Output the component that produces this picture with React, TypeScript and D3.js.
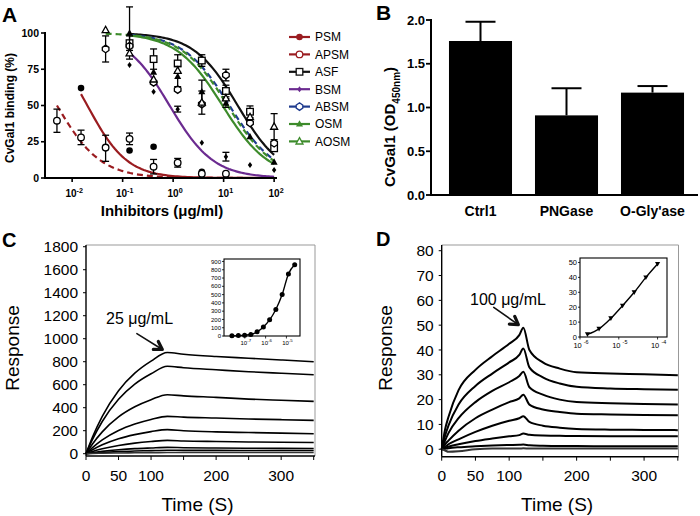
import React from 'react';
import * as d3 from 'd3';

// ---------- panel A: inhibition curves ----------
const concA = [100, 33.3, 11.1, 3.7, 1.23, 0.41, 0.137, 0.046, 0.015, 0.005];
const namesA = ['PSM', 'APSM', 'ASF', 'BSM', 'ABSM', 'OSM', 'AOSM'];
const valsA = [
  [null, null, null, 4.3, 10, 21.6, 19, 20.5, 62, null],
  [null, null, 3, 3, 10.5, 7.8, 27, 21, 28, 39.5],
  [20.5, 45.7, 60, 81, 79, 82, 93, null, null, null],
  [5.5, 9, 14.7, 24.3, 47.5, 59.5, 78, null, null, null],
  [24, 38, 71, 51, 61, 66, 91, 89, null, null],
  [11, 28.5, 51.7, 59.5, 70, 73, 100, null, null, null],
  [35.4, 42, 55, 52, 74, 68, 86, 102, null, null],
];
const errsA = [
  [0, 0, 0, 0, 0, 0, 0, 9, 0, 0],
  [0, 0, 0, 0, 3, 5, 4, 0, 5, 8],
  [0, 4, 4, 4, 6, 7, 5, 0, 0, 0],
  [0, 0, 3, 0, 2, 0, 0, 0, 0, 0],
  [0, 0, 4, 0, 0, 0, 0, 9, 0, 0],
  [0, 0, 3, 8, 7, 0, 18, 0, 0, 0],
  [9, 0, 0, 8, 0, 0, 0, 0, 0, 0],
];
// fitted one-site inhibition parameters
const fitIC50 = [0.02, 0.005, 19, 0.85, 13, 9.5, 12];
const fitHill = [1.1, 1.0, 1.0, 1.0, 0.95, 0.95, 0.95];
const fitStart = [0.015, 0.005, 0.137, 0.137, 0.137, 0.137, 0.046];
const ticksA = [0, 25, 50, 75, 100];
const decadesA = [-2, -1, 0, 1, 2];

const colorsA = ['#9a1c20', '#9a1c20', '#111', '#6b2b90', '#1f3b8e', '#3d8b2b', '#3d8b2b'];
const dashedA = [false, true, false, false, true, false, true];
const markersA = ['cf', 'co', 'so', 'df', 'do', 'tf', 'to'];

// ---------- panel B: bars ----------
const catsB = ['Ctrl1', 'PNGase', "O-Gly'ase"];
const meansB = [1.76, 0.91, 1.17];
const errB = [0.22, 0.31, 0.075];
const ticksB = [0, 0.5, 1.0, 1.5, 2.0];

// ---------- panel C: sensorgrams ----------
const timeC = [0, 10, 25, 50, 75, 100, 125, 150, 200, 250, 300, 350];
const respC = [
  [0, 145, 325, 548, 700, 805, 880, 865, 845, 830, 815, 800],
  [0, 125, 280, 473, 605, 695, 760, 748, 730, 713, 700, 687],
  [0, 85, 190, 320, 408, 470, 513, 503, 490, 475, 465, 455],
  [0, 53, 120, 202, 258, 298, 325, 318, 310, 302, 296, 290],
  [0, 34, 77, 130, 166, 192, 209, 200, 190, 184, 179, 174],
  [0, 19, 43, 72, 92, 106, 116, 111, 106, 102, 100, 98],
  [0, 9, 20, 34, 44, 50, 55, 52, 49, 47, 46, 45],
  [0, 5, 11, 18, 23, 27, 30, 29, 29, 28, 28, 28],
  [0, 2, 4, 6, 8, 9, 10, 10, 10, 10, 10, 10],
];
const yTicksC = [0, 200, 400, 600, 800, 1000, 1200, 1400, 1600, 1800];
const xTicksC = [0, 50, 100, 150, 200, 250, 300, 350];
const xLabelsC = [0, 50, 100, 200, 300];
const concInsetC = [2.4e-8, 4.9e-8, 9.8e-8, 1.95e-7, 3.9e-7, 7.8e-7, 1.56e-6, 3.1e-6, 6.25e-6, 1.25e-5, 2.5e-5];
const respInsetC = [2, 5, 10, 18, 50, 110, 195, 320, 500, 750, 860];
const yTicksInsetC = [0, 100, 200, 300, 400, 500, 600, 700, 800, 900];
const xTicksInsetC = [-7, -6, -5];

// ---------- panel D ----------
const timeD = [0, 5, 10, 25, 50, 75, 100, 115, 121, 130, 150, 175, 200, 250, 300, 350];
const respD = [
  [0, 8, 13, 23.8, 32, 37.5, 42.5, 46, 49, 40, 35, 32.5, 31, 30.5, 30.2, 29.8],
  [0, 5.5, 9.5, 18, 25.5, 30.5, 35, 38, 40.6, 33, 29, 26.5, 25.2, 24.5, 24.2, 24],
  [0, 3.5, 6.5, 12.5, 19, 23.5, 27, 29.5, 31.2, 25, 22, 20, 19, 18.5, 18.2, 18],
  [0, 2, 3.5, 7.5, 12.5, 16, 19, 20.5, 22, 18, 16, 15, 14.3, 14, 13.8, 13.7],
  [0, 1, 2, 4, 7, 9.5, 11.5, 12.5, 13.3, 11, 9.5, 8.7, 8.2, 7.9, 7.8, 7.7],
  [0, 0.5, 1, 2, 3.3, 4.3, 5.2, 5.7, 6.3, 5.8, 5.5, 5.4, 5.3, 5.2, 5.2, 5.2],
  [0, 0.2, 0.4, 0.8, 1.2, 1.5, 1.7, 1.8, 1.9, 1.6, 1.4, 1.3, 1.3, 1.2, 1.2, 1.2],
  [0, -0.5, -1, -0.8, 0, 0.3, 0.3, 0.3, 0.4, 0.3, 0.3, 0.3, 0.3, 0.3, 0.3, 0.3],
];
const yTicksD = [0, 10, 20, 30, 40, 50, 60, 70, 80];
const concInsetD = [1.56e-6, 3.1e-6, 6.25e-6, 1.25e-5, 2.5e-5, 5e-5, 1e-4];
const respInsetD = [1.8, 5.5, 12.5, 21, 30, 40, 49];
const yTicksInsetD = [0, 10, 20, 30, 40, 50];
const xTicksInsetD = [-6, -5, -4];

const ARIAL = 'Arial, "Liberation Sans", Helvetica, sans-serif';

function Marker({ type, x, y, color }: { type: string; x: number; y: number; color: string }) {
  const s = 3.3;
  if (type === 'cf') return <circle cx={x} cy={y} r={s} fill={color} />;
  if (type === 'co') return <circle cx={x} cy={y} r={s} fill="#fff" stroke={color} strokeWidth={1.3} />;
  if (type === 'so') return <rect x={x - s} y={y - s} width={2 * s} height={2 * s} fill="#fff" stroke={color} strokeWidth={1.3} />;
  if (type === 'df') return <polygon points={`${x},${y - 3} ${x + 2.2},${y} ${x},${y + 3} ${x - 2.2},${y}`} fill={color} />;
  if (type === 'do') return <polygon points={`${x},${y - 3.8} ${x + 3.3},${y - 1.5} ${x + 3.3},${y + 1.5} ${x},${y + 3.8} ${x - 3.3},${y + 1.5} ${x - 3.3},${y - 1.5}`} fill="#fff" stroke={color} strokeWidth={1.3} />;
  if (type === 'tf') return <polygon points={`${x},${y - 3.8} ${x + 3.5},${y + 2.6} ${x - 3.5},${y + 2.6}`} fill={color} />;
  if (type === 'tdown') return <polygon points={`${x - 2.6},${y - 2} ${x + 2.6},${y - 2} ${x},${y + 2.6}`} fill={color} />;
  return <polygon points={`${x},${y - 3.8} ${x + 3.5},${y + 2.6} ${x - 3.5},${y + 2.6}`} fill="#fff" stroke={color} strokeWidth={1.3} />;
}

function Pow({ x, y, exp, size, anchor = 'middle', bold = false, gap = '' }: any) {
  return (
    <text x={x} y={y} textAnchor={anchor} fontSize={size} fontWeight={bold ? 'bold' : 'normal'} fontFamily={ARIAL}>
      {'10' + gap}<tspan dy={-size * 0.45} fontSize={size * 0.72}>{exp}</tspan>
    </text>
  );
}

function PanelA() {
  const x = d3.scaleLog().domain([0.0029, 114]).range([45, 277]);
  const y = d3.scaleLinear().domain([0, 100]).range([178, 33]);
  return (
    <g fontFamily={ARIAL}>
      <text x={2} y={22} fontSize={21} fontWeight="bold">A</text>
      {namesA.map((n, si) => {
        const pts = d3.range(0, 81).map((k) => {
          const lg0 = Math.log10(fitStart[si]);
          const c = Math.pow(10, lg0 + ((2 - lg0) * k) / 80);
          return [x(c), y(100 / (1 + Math.pow(c / fitIC50[si], fitHill[si])))] as [number, number];
        });
        return (
          <path key={n} d={d3.line()(pts) || ''} fill="none" stroke={colorsA[si]} strokeWidth={2.2}
            strokeDasharray={dashedA[si] ? '6,4' : undefined} />
        );
      })}
      {namesA.map((n, si) => (
        <g key={'m' + n}>
          {valsA[si].map((v, i) => {
            if (v === null) return null;
            const cx = x(concA[i]);
            const e = errsA[si][i];
            return (
              <g key={i}>
                {e > 0 && (
                  <g stroke="#000" strokeWidth={1.3}>
                    <line x1={cx} x2={cx} y1={y(v - e)} y2={y(v + e)} />
                    <line x1={cx - 3.5} x2={cx + 3.5} y1={y(v - e)} y2={y(v - e)} />
                    <line x1={cx - 3.5} x2={cx + 3.5} y1={y(v + e)} y2={y(v + e)} />
                  </g>
                )}
                <Marker type={markersA[si]} x={cx} y={y(v)} color="#000" />
              </g>
            );
          })}
        </g>
      ))}
      {/* axes */}
      <line x1={45} x2={45} y1={y(100) - 1} y2={y(0) + 1} stroke="#000" strokeWidth={2} />
      <line x1={44} x2={x(114)} y1={y(0)} y2={y(0)} stroke="#000" strokeWidth={2} />
      {ticksA.map((t) => (
        <g key={t}>
          <line x1={41} x2={45} y1={y(t)} y2={y(t)} stroke="#000" strokeWidth={1.6} />
          <text x={39} y={y(t)} dy="0.35em" textAnchor="end" fontSize={10.5} fontWeight="bold">{t}</text>
        </g>
      ))}
      {decadesA.map((d) => (
        <g key={d}>
          <line x1={x(Math.pow(10, d))} x2={x(Math.pow(10, d))} y1={178} y2={182} stroke="#000" strokeWidth={1.6} />
          <Pow x={x(Math.pow(10, d)) + 2} y={197} exp={String(d)} size={10} bold />
        </g>
      ))}
      <text transform="translate(14,108) rotate(-90)" textAnchor="middle" fontSize={12} fontWeight="bold">CvGal1 binding (%)</text>
      <text x={162} y={216} textAnchor="middle" fontSize={15} fontWeight="bold">Inhibitors (μg/ml)</text>
      {/* legend */}
      {namesA.map((n, si) => {
        const ly = 37 + si * 17.4;
        return (
          <g key={'l' + n}>
            <line x1={289} x2={310} y1={ly} y2={ly} stroke={colorsA[si]} strokeWidth={2.2} />
            <Marker type={markersA[si]} x={299.5} y={ly} color={colorsA[si]} />
            <text x={315} y={ly} dy="0.36em" fontSize={12}>{n}</text>
          </g>
        );
      })}
    </g>
  );
}

function PanelB() {
  const y = d3.scaleLinear().domain([0, 2]).range([195, 20]);
  const x = d3.scaleBand().domain(catsB).range([431, 702]).paddingInner(0.267).paddingOuter(0.209);
  return (
    <g fontFamily={ARIAL}>
      <text x={376} y={20} fontSize={21} fontWeight="bold">B</text>
      {catsB.map((c, i) => {
        const cx = (x(c) as number) + x.bandwidth() / 2;
        return (
          <g key={c}>
            <line x1={cx} x2={cx} y1={y(meansB[i])} y2={y(meansB[i] + errB[i])} stroke="#000" strokeWidth={2} />
            <line x1={cx - 15} x2={cx + 15} y1={y(meansB[i] + errB[i])} y2={y(meansB[i] + errB[i])} stroke="#000" strokeWidth={2} />
            <rect x={x(c)} y={y(meansB[i])} width={x.bandwidth()} height={y(0) - y(meansB[i])} fill="#000" />
            <text x={cx} y={216} textAnchor="middle" fontSize={14} fontWeight="bold">{c}</text>
          </g>
        );
      })}
      <line x1={431} x2={431} y1={19} y2={196} stroke="#000" strokeWidth={2} />
      <line x1={430} x2={698} y1={195} y2={195} stroke="#000" strokeWidth={2} />
      {ticksB.map((t) => (
        <g key={t}>
          <line x1={426} x2={431} y1={y(t)} y2={y(t)} stroke="#000" strokeWidth={1.8} />
          <text x={425} y={y(t)} dy="0.35em" textAnchor="end" fontSize={13} fontWeight="bold">{t.toFixed(1)}</text>
        </g>
      ))}
      <text transform="translate(395,187) rotate(-90)" textAnchor="start" fontSize={15} fontWeight="bold">
        CvGal1 (OD<tspan dy={4.5} fontSize={10}>450nm</tspan><tspan dy={-4.5}>)</tspan>
      </text>
    </g>
  );
}

function Arrow({ tipX, tipY, len, ang }: { tipX: number; tipY: number; len: number; ang: number }) {
  const a = (ang * Math.PI) / 180;
  const tx = tipX - len * Math.cos(a);
  const ty = tipY - len * Math.sin(a);
  const h = 9;
  const p1 = [tipX - h * Math.cos(a - 0.55), tipY - h * Math.sin(a - 0.55)];
  const p2 = [tipX - h * Math.cos(a + 0.55), tipY - h * Math.sin(a + 0.55)];
  return (
    <g stroke="#111" fill="none" strokeLinecap="round" strokeLinejoin="round">
      <line x1={tx} y1={ty} x2={tipX} y2={tipY} strokeWidth={1.6} />
      <polyline points={`${p1[0]},${p1[1]} ${tipX},${tipY} ${p2[0]},${p2[1]}`} strokeWidth={3.2} />
    </g>
  );
}

function Sensorgram({ time, resp, x, y, yTicks, xTicks, xLabels, lw, title, note, peakIdx, tx, ty, noteX, noteY, arrowAng, labelOff }: any) {
  const line = d3.line<number>().x((_, i) => x(time[i])).y((v) => y(v)).curve(d3.curveMonotoneX);
  const [x0, x1] = x.range();
  const [yb, yt] = y.range();
  return (
    <g fontFamily={ARIAL}>
      <text x={tx} y={ty} fontSize={20} fontWeight="bold">{title}</text>
      <line x1={x0} x2={x1} y1={yt} y2={yt} stroke="#999" strokeWidth={1} />
      <line x1={x1} x2={x1} y1={yt} y2={yb} stroke="#999" strokeWidth={1} />
      {resp.map((r: number[], i: number) => (
        <path key={i} d={line(r) || ''} fill="none" stroke={i === resp.length - 1 ? '#333' : '#000'} strokeWidth={lw} />
      ))}
      <line x1={x0} x2={x0} y1={yt} y2={yb} stroke="#000" strokeWidth={1.4} />
      <line x1={x0} x2={x1} y1={yb} y2={yb} stroke="#000" strokeWidth={1.4} />
      {yTicks.map((t: number) => (
        <g key={t}>
          <line x1={x0 - 3} x2={x0} y1={y(t)} y2={y(t)} stroke="#000" />
          <text x={x0 - 8} y={y(t)} dy="0.36em" textAnchor="end" fontSize={15.5}>{t}</text>
        </g>
      ))}
      {xTicks.map((t: number) => (
        <line key={t} x1={x(t)} x2={x(t)} y1={yb} y2={yb + 4} stroke="#000" />
      ))}
      {xLabels.map((t: number) => (
        <text key={t} x={x(t)} y={481} textAnchor="middle" fontSize={15.5}>{t}</text>
      ))}
      <text transform={`translate(${x0 - labelOff},348) rotate(-90)`} textAnchor="middle" fontSize={19}>Response</text>
      <text x={(x0 + x1) / 2 - 3} y={511} textAnchor="middle" fontSize={19}>Time (S)</text>
      <text x={noteX} y={noteY} fontSize={16}>{note}</text>
      <Arrow tipX={x(time[peakIdx]) - 5} tipY={y(resp[0][peakIdx]) - 3} len={30} ang={arrowAng} />
    </g>
  );
}

function Inset({ conc, resp, x, y, yTicks, decades, fs, marker, gap }: any) {
  const [x0, x1] = x.range();
  const [yb, yt] = y.range();
  const line = d3.line<number>().x((_, i) => x(conc[i])).y((v) => y(v)).curve(d3.curveMonotoneX);
  return (
    <g fontFamily={ARIAL}>
      <rect x={x0} y={yt} width={x1 - x0} height={yb - yt} fill="#fff" stroke="#000" strokeWidth={1.1} />
      <path d={line(resp) || ''} fill="none" stroke="#000" strokeWidth={1.4} />
      {resp.map((v: number, i: number) =>
        marker === 'circle'
          ? <circle key={i} cx={x(conc[i])} cy={y(v)} r={2.5} fill="#000" />
          : <Marker key={i} type="tdown" x={x(conc[i])} y={y(v)} color="#000" />
      )}
      {yTicks.map((t: number) => (
        <g key={t}>
          <line x1={x0 - 2} x2={x0} y1={y(t)} y2={y(t)} stroke="#000" strokeWidth={0.8} />
          <text x={x0 - 3} y={y(t)} dy="0.36em" textAnchor="end" fontSize={fs}>{t}</text>
        </g>
      ))}
      {decades.map((d: number) => (
        <g key={d}>
          <line x1={x(Math.pow(10, d))} x2={x(Math.pow(10, d))} y1={yb} y2={yb + 2.5} stroke="#000" strokeWidth={0.8} />
          <Pow x={x(Math.pow(10, d)) + 1} y={yb + fs + 3} exp={String(d)} size={fs} gap={gap} />
        </g>
      ))}
    </g>
  );
}

export default function App() {
  const xC = d3.scaleLinear().domain([0, 352]).range([86, 315]);
  const yC = d3.scaleLinear().domain([-20, 1815]).range([456, 245]);
  const xD = d3.scaleLinear().domain([0, 351]).range([441.7, 678.5]);
  const yD = d3.scaleLinear().domain([-3, 82.3]).range([456.7, 245]);
  const xIC = d3.scaleLog().domain([1e-8, 4.5e-5]).range([224, 300]);
  const yIC = d3.scaleLinear().domain([0, 930]).range([336, 259]);
  const xID = d3.scaleLog().domain([1e-6, 1.75e-4]).range([580, 667]);
  const yID = d3.scaleLinear().domain([0, 53]).range([337, 258]);
  return (
    <svg width={700} height={516} style={{ position: 'absolute', left: 0, top: 0, background: '#fff' }}>
      <rect width={700} height={516} fill="#fff" />
      <PanelA />
      <PanelB />
      <Sensorgram time={timeC} resp={respC} x={xC} y={yC} yTicks={yTicksC} xTicks={xTicksC} xLabels={xLabelsC}
        lw={1.6} title="C" tx={2} ty={247} note="25 μg/mL" noteX={106} noteY={324} peakIdx={6} arrowAng={32} labelOff={67} />
      <Sensorgram time={timeD} resp={respD} x={xD} y={yD} yTicks={yTicksD} xTicks={xTicksC} xLabels={xLabelsC}
        lw={2} title="D" tx={376} ty={246} note="100 μg/mL" noteX={470} noteY={305} peakIdx={8} arrowAng={35} labelOff={50} />
      <Inset conc={concInsetC} resp={respInsetC} x={xIC} y={yIC} yTicks={yTicksInsetC} decades={xTicksInsetC} fs={6} marker="circle" gap="" />
      <Inset conc={concInsetD} resp={respInsetD} x={xID} y={yID} yTicks={yTicksInsetD} decades={xTicksInsetD} fs={7.5} marker="tri" gap=" " />
    </svg>
  );
}
